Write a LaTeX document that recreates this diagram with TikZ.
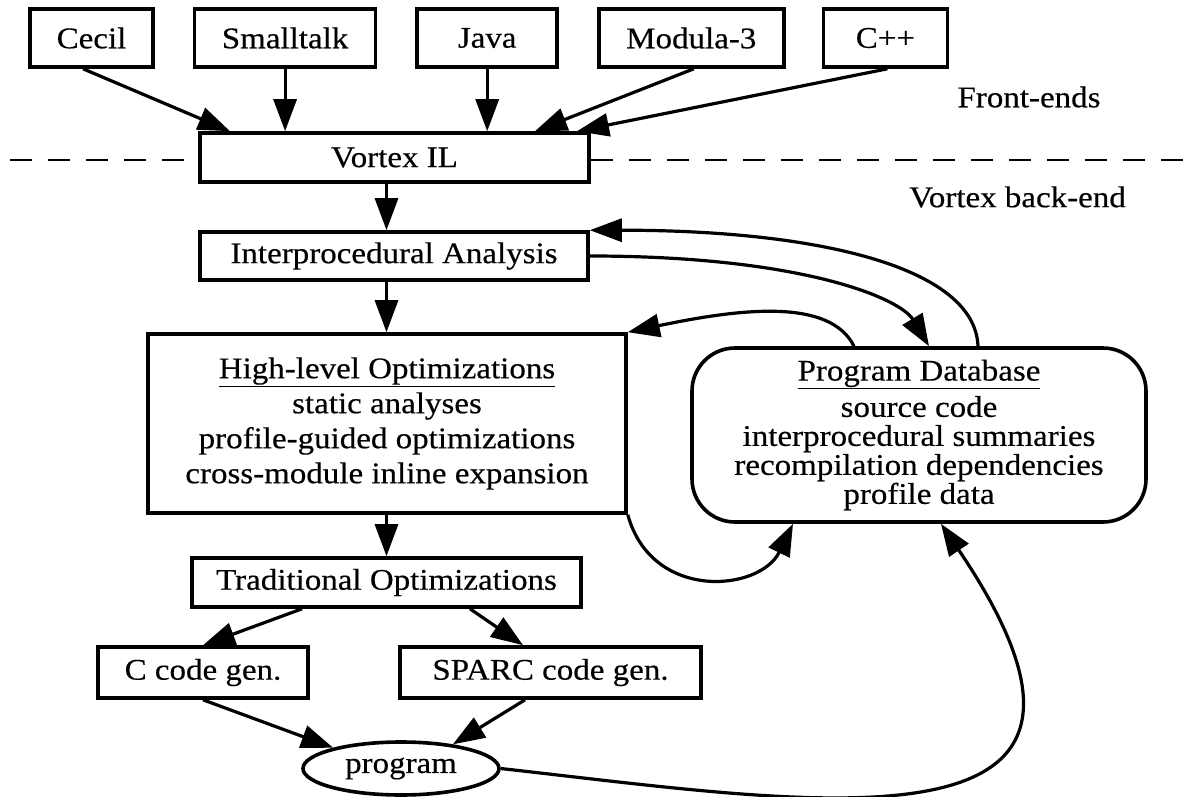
\documentclass[tikz,border=0pt]{standalone}
\usepackage{fontspec}
\setmainfont{Liberation Serif}[FakeStretch=1.1, FakeBold=0.4]
\usetikzlibrary{positioning,arrows.meta}
\usetikzlibrary{shapes.geometric}
\tikzstyle{bx}=[draw, line width=3.6pt, inner sep=0pt, font=\fontsize{30}{35}\selectfont]

\begin{document}
\begin{tikzpicture}[x=1pt, y=-1pt, line width=3.2pt, >={Triangle[length=32pt,width=23pt]},
	el/.style = {inner sep = 0pt, align = center, font=\fontsize{30}{35}\selectfont}]

	\useasboundingbox (0,0) rectangle (1191,797);

	% front-ends
	\node[bx, minimum width=123pt, minimum height=58pt] (cecil) at (91.5,38) {Cecil};
	\node[bx, minimum width=181pt, minimum height=58pt, right=38pt of cecil] (small) {Smalltalk};
	\node[bx, minimum width=140pt, minimum height=58pt, right=38pt of small] (java) {Java};
	\node[bx, minimum width=185pt, minimum height=58pt, right=38pt of java] (modula) {Modula-3};
	\node[bx, minimum width=124pt, minimum height=58pt, right=36pt of modula] (cpp) {C++};

	\node[bx, minimum width=389pt, minimum height=49pt] (vil) at (394.5,157.5) {Vortex IL};
	\node[el] (fe) at (1029,97) {Front-ends};
	\node[el] (be) at (1017.5,197) {Vortex back-end};

	% back-end
	\node[bx, minimum width=388pt, minimum height=48pt] (ia) at (394,256) {Interprocedural Analysis};
	\node[bx, minimum width=478pt, minimum height=179pt, align=center] (hl) at (387,423.5)
	{\underline{High-level Optimizations}\\static analyses\\profile-guided optimizations\\cross-module inline expansion};
	\node[bx, rounded corners=43pt, minimum width=454pt, minimum height=174pt, align=center,
	font=\fontsize{30}{29}\selectfont] (pdb) at (919,435)
	{\underline{Program Database}\\[6pt]source code\\interprocedural summaries\\recompilation dependencies\\profile data};
	\node[bx, minimum width=389pt, minimum height=49pt] (trad) at (386.5,582.5) {Traditional Optimizations};
	\node[bx, minimum width=210pt, minimum height=51pt] (cgen) at (203,672.5) {C code gen.};
	\node[bx, minimum width=301pt, minimum height=51pt] (sparc) at (550.5,672.5) {SPARC code gen.};
	\node[bx, ellipse, minimum width=196pt, minimum height=53pt] (prog) at (401,768.5) {program};

	% dashed separator
	\coordinate (dl) at (10,160);
	\coordinate (dr) at (1191,160);
	\draw[line width=2.8pt, dash pattern=on 22pt off 16pt] (dl) -- (dl -| vil.west);
	\draw[line width=2.8pt, dash pattern=on 22pt off 16pt] (vil.east |- dr) -- (dr);

	\draw ([xshift=-8.5pt]cecil.south) edge[->] ([xshift=-164.5pt]vil.north);
	\draw (small.south) edge[->] (small.south |- vil.north);
	\draw (java.south) edge[->] (java.south |- vil.north);
	\draw ([xshift=2.5pt]modula.south) edge[->] ([xshift=140.5pt]vil.north);
	\draw ([xshift=2pt]cpp.south) edge[->] ([xshift=182.5pt]vil.north);

	\draw (vil.south -| trad) edge[->] (ia.north -| trad);
	\draw (ia.south -| trad) edge[->] (hl.north -| trad);
	\draw (hl.south -| trad) edge[->] (trad.north);

	\draw ([xshift=-84.5pt]trad.south) edge[->] (cgen.north);
	\draw ([xshift=83.5pt]trad.south) edge[->] ([xshift=-27.5pt]sparc.north);
	\draw (cgen.south) edge[->] (prog.163);
	\draw ([xshift=-25.5pt]sparc.south) edge[->] (prog.25);

	% database links
	\draw[->] (ia.east) .. controls +(212,0) and +(-29,-48) .. ([xshift=10pt]pdb.north);
	\draw[->] ([xshift=59pt]pdb.north) .. controls +(-3,-78) and +(232,0) .. (ia.north east);
	\draw[->] ([xshift=-65pt]pdb.north) .. controls +(-24,-48) and +(114,-24) .. (hl.north east);
	\draw[->] (hl.south east) .. controls +(24,87) and +(-33,68) .. ([xshift=-126pt]pdb.south);
	\draw[->] (prog.east) .. controls +(321,36) and +(230,340) .. ([xshift=22pt]pdb.south);

\end{tikzpicture}
\end{document}
